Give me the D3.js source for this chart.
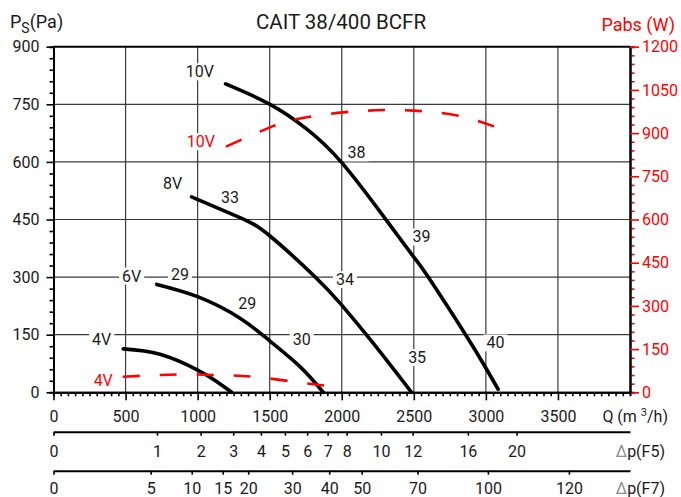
<!DOCTYPE html>
<html><head><meta charset="utf-8">
<script src="https://cdn.jsdelivr.net/npm/d3@7"></script>
<style>
html,body{margin:0;padding:0;background:#fff;}
svg{display:block;font-family:Roboto,"DejaVu Sans",sans-serif;}
</style></head><body>
<svg id="c" width="681" height="497"></svg>
<script>
// ---------- data ----------
const chartTitle = "CAIT 38/400 BCFR";
const qTicks = [0, 500, 1000, 1500, 2000, 2500, 3000, 3500];
const psTicks = [0, 150, 300, 450, 600, 750, 900];
const pabsTicks = [0, 150, 300, 450, 600, 750, 900, 1050, 1200];

// filter pressure-drop scales: label and the flow rate (m3/h) it sits at
const f5Labels = ["0", "1", "2", "3", "4", "5", "6", "7", "8", "10", "12", "16", "20"];
const f5Q = [0, 718, 1021, 1247, 1439, 1606, 1760, 1902, 2034, 2272, 2492, 2875, 3213];
const f7Labels = ["0", "5", "10", "15", "20", "30", "40", "50", "70", "100", "120"];
const f7Q = [0, 674, 959, 1174, 1351, 1656, 1913, 2138, 2526, 3014, 3576];

// static pressure curves (Pa)
const q10V = [1194, 1502, 1756, 2000, 2300, 2500, 2600, 2854, 3005, 3085];
const ps10V = [803, 750, 686, 598, 453, 352, 300, 153, 60, 8];
const q8V = [958, 1294, 1502, 1814, 2000, 2218, 2484];
const ps8V = [509, 455, 407, 301, 227, 128, 0];
const q6V = [716, 1000, 1294, 1500, 1710, 1872];
const ps6V = [281, 249, 193, 134, 67, 0];
const q4V = [484, 739, 1000, 1132, 1236];
const ps4V = [113, 99, 58, 28, 0];

// absorbed power curves (W)
const qW10V = [1196, 1502, 1710, 2010, 2288, 2496, 2820, 3155];
const pabs10V = [853, 920, 951, 972, 980, 978, 959, 905];
const qW4V = [480, 854, 1132, 1386, 1663, 1883];
const pabs4V = [54, 62, 60, 54, 37, 23];

// annotations (anchor given in Q / Ps units)
const annText = ["10V", "10V", "8V", "33", "38", "39", "34", "40", "35", "6V", "29", "29", "30", "4V", "4V"];
const annQ = [1016, 1023, 827, 1224, 2103, 2554, 2022, 3067, 2523, 542, 877, 1344, 1722, 334, 345];
const annP = [835, 653, 544, 509, 624, 405, 294, 129, 91, 303, 308, 232, 138, 138, 32];
const annRed = [false, true, false, false, false, false, false, false, false, false, false, false, false, false, true];

// ---------- drawing ----------
const RED = "#ff0000";
const svg = d3.select("#c");
const x = d3.scaleLinear().domain([0, 4000]).range([53.5, 630]);
const y = d3.scaleLinear().domain([0, 900]).range([392.3, 46.7]);
const yW = d3.scaleLinear().domain([0, 1200]).range([392.3, 46.7]);
const fs = 16;
const fmt = d3.format("d");

// grid
const grid = svg.append("g").attr("stroke", "#3a3a3a").attr("stroke-width", 1.2);
grid.selectAll("line.v").data(qTicks.filter(d => d > 0)).join("line")
  .attr("x1", d => x(d)).attr("x2", d => x(d)).attr("y1", y(900)).attr("y2", y(0));
grid.selectAll("line.h").data(psTicks.filter(d => d > 0 && d < 900)).join("line")
  .attr("x1", x(0)).attr("x2", x(4000)).attr("y1", d => y(d)).attr("y2", d => y(d));

// top border
svg.append("line").attr("x1", x(0)).attr("x2", x(4000)).attr("y1", y(900)).attr("y2", y(900))
  .attr("stroke", "#000").attr("stroke-width", 2);

function styleAxis(g, color, width) {
  g.select(".domain").attr("stroke", color).attr("stroke-width", width);
  g.selectAll(".tick line").attr("stroke", color).attr("stroke-width", 1.6);
  g.selectAll("text").attr("font-size", fs).attr("fill", color).attr("font-family", "Roboto");
}

// left axis
const minorPs = d3.range(0, 901, 30).filter(d => d % 150 !== 0);
svg.append("g").attr("transform", `translate(${x(0)},0)`)
  .call(d3.axisLeft(y).tickValues(minorPs).tickSize(4).tickFormat(""))
  .call(g => styleAxis(g, "#000", 2));
svg.append("g").attr("transform", `translate(${x(0)},0)`)
  .call(d3.axisLeft(y).tickValues(psTicks).tickSize(7).tickPadding(7).tickSizeOuter(0).tickFormat(fmt))
  .call(g => styleAxis(g, "#000", 2))
  .call(g => g.selectAll("text").attr("fill", "#1a1a1a"));

// right axis
const minorW = d3.range(0, 1201, 30).filter(d => d % 150 !== 0);
svg.append("g").attr("transform", `translate(${x(4000)},0)`)
  .call(d3.axisRight(yW).tickValues(minorW).tickSize(4.5).tickFormat(""))
  .call(g => styleAxis(g, RED, 2))
  .call(g => g.select(".domain").attr("stroke", "#000"));
svg.append("g").attr("transform", `translate(${x(4000)},0)`)
  .call(d3.axisRight(yW).tickValues(pabsTicks).tickSize(9).tickPadding(3).tickSizeOuter(0).tickFormat(fmt))
  .call(g => styleAxis(g, RED, 2))
  .call(g => g.select(".domain").attr("stroke", "#000"));

// bottom axis
const minorQ = d3.range(0, 4001, 50).filter(d => d % 500 !== 0);
svg.append("g").attr("transform", `translate(0,${y(0)})`)
  .call(d3.axisBottom(x).tickValues(minorQ).tickSize(4).tickFormat(""))
  .call(g => styleAxis(g, "#000", 2));
svg.append("g").attr("transform", `translate(0,${y(0)})`)
  .call(d3.axisBottom(x).tickValues(qTicks).tickSize(8).tickPadding(10).tickSizeOuter(0).tickFormat(fmt))
  .call(g => styleAxis(g, "#000", 2))
  .call(g => g.selectAll("text").attr("fill", "#1a1a1a"));

// filter axes
function filterAxis(yPos, pad, labels, qs) {
  svg.append("g").attr("transform", `translate(0,${yPos})`)
    .call(d3.axisBottom(x).tickValues(qs).tickSize(4).tickPadding(pad).tickSizeOuter(0)
      .tickFormat((d, i) => labels[i]))
    .call(g => styleAxis(g, "#000", 2))
    .call(g => g.selectAll("text").attr("fill", "#1a1a1a"));
}
filterAxis(431.7, 9.5, f5Labels, f5Q);
filterAxis(470.7, 7.5, f7Labels, f7Q);

// annotations with white boxes
const ann = svg.append("g");
annText.forEach((t, i) => {
  const gg = ann.append("g");
  const tx = gg.append("text").text(t)
    .attr("x", x(annQ[i])).attr("y", y(annP[i]) + 0.355 * fs)
    .attr("text-anchor", "middle").attr("font-size", fs)
    .attr("fill", annRed[i] ? RED : "#1a1a1a");
  const b = tx.node().getBBox();
  gg.insert("rect", "text").attr("x", b.x - 3).attr("y", b.y + 1)
    .attr("width", b.width + 6).attr("height", b.height - 2).attr("fill", "#fff");
});

// curves
const line = d3.line().x(d => x(d[0])).y(d => y(d[1])).curve(d3.curveNatural);
const lineW = d3.line().x(d => x(d[0])).y(d => yW(d[1])).curve(d3.curveNatural);
const psCurves = [[q10V, ps10V], [q8V, ps8V], [q6V, ps6V], [q4V, ps4V]];
svg.append("g").selectAll("path").data(psCurves).join("path")
  .attr("d", d => line(d[0].map((q, i) => [q, d[1][i]])))
  .attr("fill", "none").attr("stroke", "#000").attr("stroke-width", 3.6).attr("stroke-linecap", "round");
const wCurves = [[qW10V, pabs10V], [qW4V, pabs4V]];
svg.append("g").selectAll("path").data(wCurves).join("path")
  .attr("d", d => lineW(d[0].map((q, i) => [q, d[1][i]])))
  .attr("fill", "none").attr("stroke", RED).attr("stroke-width", 2.6).attr("stroke-dasharray", "17,20");

// titles
svg.append("text").attr("x", 341).attr("y", 29.3).attr("text-anchor", "middle")
  .attr("font-size", 20.5).attr("fill", "#1a1a1a").text(chartTitle);
const ps = svg.append("text").attr("x", 10).attr("y", 27.7).attr("font-size", 18).attr("fill", "#1a1a1a");
ps.append("tspan").text("P");
ps.append("tspan").attr("font-size", 14).attr("dy", 5).text("S");
ps.append("tspan").attr("dy", -5).text("(Pa)");
svg.append("text").attr("x", 675).attr("y", 31).attr("text-anchor", "end")
  .attr("font-size", 18).attr("fill", RED).text("Pabs (W)");
const ql = svg.append("text").attr("x", 668).attr("y", 421.7).attr("text-anchor", "end")
  .attr("font-size", fs).attr("fill", "#1a1a1a");
ql.append("tspan").text("Q (m ");
ql.append("tspan").attr("font-size", 11).attr("dy", -6).text("3");
ql.append("tspan").attr("dy", 6).text("/h)");
[["F5", 456.5], ["F7", 493.5]].forEach(([f, yy]) => {
  const t = svg.append("text").attr("x", 665).attr("y", yy).attr("text-anchor", "end")
    .attr("font-size", fs).attr("fill", "#1a1a1a");
  t.append("tspan").attr("fill", "#8a8a8a").text("\u2206");
  t.append("tspan").text(`p(${f})`);
});
</script>
</body></html>
